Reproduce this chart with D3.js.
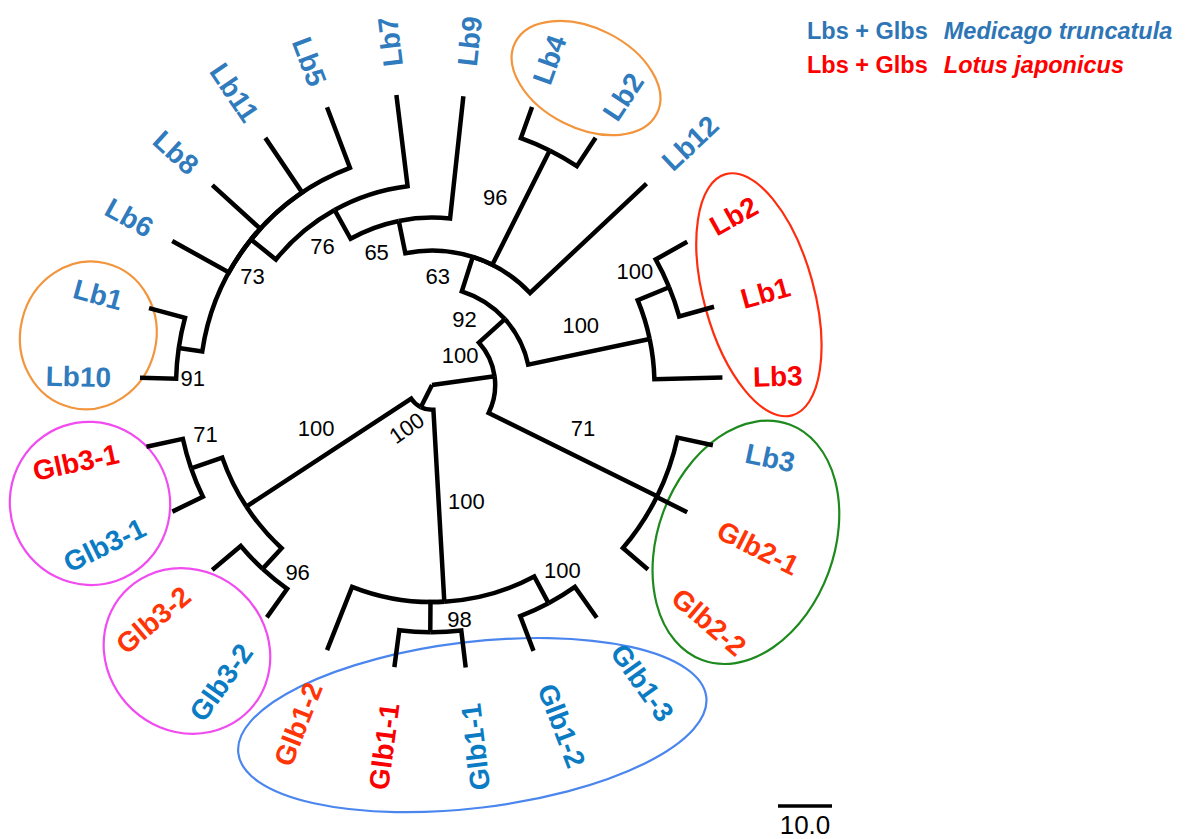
<!DOCTYPE html>
<html>
<head>
<meta charset="utf-8">
<script src="https://cdn.jsdelivr.net/npm/d3@7"></script>
<style>
  html, body { margin: 0; padding: 0; background: #fff; }
  svg { display: block; font-family: "Liberation Sans", Arial, Helvetica, sans-serif; }
</style>
</head>
<body>
<svg id="chart" width="1190" height="839"></svg>
<script>
// ---- Tree topology: node id, parent id, branch length (scale-bar units), bootstrap support
const nodeId = ["root", "A", "N92", "N63", "N65", "N76", "N73", "N91", "Lb10", "Lb1",
  "Lb6", "Lb8", "Lb11", "Lb5", "Lb7", "Lb9", "N96", "Lb4", "Lb2", "Lb12",
  "NL100", "NL100b", "LjLb2", "LjLb1", "LjLb3", "NG2", "MtLb3", "LjGlb2-1", "LjGlb2-2",
  "B", "G1", "N100c", "MtGlb1-3", "MtGlb1-2", "N98", "MtGlb1-1", "LjGlb1-1", "LjGlb1-2",
  "G3", "N96b", "MtGlb3-2", "LjGlb3-2", "N71", "MtGlb3-1", "LjGlb3-1"];
const nodeParent = [null, "root", "A", "N92", "N63", "N65", "N76", "N73", "N91", "N91",
  "N73", "N73", "N73", "N73", "N76", "N65", "N63", "N96", "N96", "N63",
  "N92", "NL100", "NL100b", "NL100b", "NL100", "A", "NG2", "NG2", "NG2",
  "root", "B", "G1", "N100c", "N100c", "G1", "N98", "N98", "G1",
  "B", "G3", "N96b", "N96b", "G3", "N71", "N71"];
const branchLength = [0, 11.7, 6.5, 6.7, 6.1, 6.1, 5.9, 4.4, 6.7, 6.9,
  12.0, 12.0, 12.2, 12.0, 17.0, 22.8, 23.7, 6.1, 6.3, 29.6,
  23.0, 6.3, 6.7, 6.7, 12.6, 34.8, 6.7, 6.3, 6.1,
  4.6, 35.6, 5.6, 7.0, 6.9, 5.6, 6.9, 6.9, 12.6,
  36.5, 5.2, 6.5, 6.9, 6.1, 6.3, 6.9];
const bootstrap = [null, 100, 92, 63, 65, 76, 73, 91, null, null,
  null, null, null, null, null, null, 96, null, null, null,
  100, 100, null, null, null, 71, null, null, null,
  100, 100, 100, null, null, 98, null, null, null,
  100, 96, null, null, 71, null, null];

// ---- Leaves: id, printed name, angular position (degrees, clockwise from east), species group
const leafId = ["Lb10", "Lb1", "Lb6", "Lb8", "Lb11", "Lb5", "Lb7", "Lb9", "Lb4", "Lb2", "Lb12",
  "LjLb2", "LjLb1", "LjLb3", "MtLb3", "LjGlb2-1", "LjGlb2-2",
  "MtGlb1-3", "MtGlb1-2", "MtGlb1-1", "LjGlb1-1", "LjGlb1-2",
  "MtGlb3-2", "LjGlb3-2", "MtGlb3-1", "LjGlb3-1"];
const leafName = ["Lb10", "Lb1", "Lb6", "Lb8", "Lb11", "Lb5", "Lb7", "Lb9", "Lb4", "Lb2", "Lb12",
  "Lb2", "Lb1", "Lb3", "Lb3", "Glb2-1", "Glb2-2",
  "Glb1-3", "Glb1-2", "Glb1-1", "Glb1-1", "Glb1-2",
  "Glb3-2", "Glb3-2", "Glb3-1", "Glb3-1"];
const leafAngle = [181.4, 195.2, 209.0, 222.3, 236.0, 249.3, 263.0, 276.2, 289.8, 303.5, 316.8,
  330.7, 344.5, 358.5, 372.1, 386.5, 400.5,
  414.7, 429.1, 443.2, 457.6, 471.6,
  485.4, 499.9, 514.0, 527.8];
const leafGroup = ["MtLb", "MtLb", "MtLb", "MtLb", "MtLb", "MtLb", "MtLb", "MtLb", "MtLb", "MtLb", "MtLb",
  "LjLb", "LjLb", "LjLb", "MtLb", "LjGlb", "LjGlb",
  "MtGlb", "MtGlb", "MtGlb", "LjLb", "LjGlb",
  "MtGlb", "LjGlb", "MtGlb", "LjLb"];

// ---- Legend and scale bar texts
const legendPrefix = ["Lbs + Glbs", "Lbs + Glbs"];
const legendSpecies = ["Medicago truncatula", "Lotus japonicus"];
const scaleBarValue = 10.0;

// ---- Clade highlights (members listed by leaf id)
const cladeMembers = [
  ["Lb4", "Lb2"],
  ["Lb1", "Lb10"],
  ["LjLb2", "LjLb1", "LjLb3"],
  ["MtLb3", "LjGlb2-1", "LjGlb2-2"],
  ["MtGlb3-1", "LjGlb3-1"],
  ["MtGlb3-2", "LjGlb3-2"],
  ["LjGlb1-2", "LjGlb1-1", "MtGlb1-1", "MtGlb1-2", "MtGlb1-3"]
];

// ---------------- drawing ----------------
const CX = 432, CY = 385;
const svg = d3.select("#chart");

const colour = d3.scaleOrdinal()
  .domain(["MtLb", "MtGlb", "LjLb", "LjGlb"])
  .range(["#2f7bbd", "#0b7cc3", "#fa0000", "#ff3508"]);

// highlight styling: stroke colour, padding along / across the major axis
const cladeStyle = [
  { stroke: "#f2953d", padLong: 38, padShort: 50 },
  { stroke: "#f2953d", padLong: 32, padShort: 68 },
  { stroke: "#ff2d0f", padLong: 42, padShort: 55 },
  { stroke: "#1e8a1e", padLong: 38, padShort: 88 },
  { stroke: "#f04cf0", padLong: 38, padShort: 80 },
  { stroke: "#f04cf0", padLong: 40, padShort: 80 },
  { stroke: "#4a86ee", padLong: 62, padShort: 83 }
];
const supportSide = { N71: 1, G3: 1, B: 0 };   // default -1 (counter-clockwise side)
const supportTilt = { B: -35 };

const R = d3.scaleLinear().domain([0, 10]).range([0, 54]);     // branch length -> px
const rad = d3.scaleLinear().domain([0, 180]).range([0, Math.PI]);

const rows = nodeId.map((id, i) => ({ id, parent: nodeParent[i], len: branchLength[i], support: bootstrap[i] }));
const root = d3.stratify().id(d => d.id).parentId(d => d.parent)(rows);

root.eachBefore(n => { n.dist = n.parent ? n.parent.dist + n.data.len : 0; });
root.eachAfter(n => {
  if (!n.children) {
    n.angle = leafAngle[leafId.indexOf(n.id)];
  } else {
    n.children.sort((a, b) => a.angle - b.angle);
    n.angle = (n.children[0].angle + n.children[n.children.length - 1].angle) / 2;
  }
});

const polar = (r, deg) => [r * Math.cos(rad(deg)), r * Math.sin(rad(deg))];

const g = svg.append("g").attr("transform", `translate(${CX},${CY})`);
const ellLayer = g.append("g");
const linkLayer = g.append("g");
const labelLayer = g.append("g");
const supportLayer = g.append("g");

// branches: arc along the parent radius, then radial segment to the child
function linkPath(n) {
  const p = d3.path();
  const r0 = R(n.parent.dist), r1 = R(n.dist);
  const a0 = rad(n.parent.angle), a1 = rad(n.angle);
  if (r0 > 0) {
    p.moveTo(r0 * Math.cos(a0), r0 * Math.sin(a0));
    p.arc(0, 0, r0, a0, a1, a1 < a0);
  } else {
    p.moveTo(0, 0);
  }
  p.lineTo(r1 * Math.cos(a1), r1 * Math.sin(a1));
  return p.toString();
}

linkLayer.selectAll("path")
  .data(root.descendants().filter(n => n.parent))
  .join("path")
  .attr("d", linkPath)
  .attr("fill", "none")
  .attr("stroke", "#000")
  .attr("stroke-width", 4.5)
  .attr("stroke-linejoin", "miter")
  .attr("stroke-linecap", "butt");

// leaf labels, written outward along each leaf's radius
const labelR = 321;
const labelCentre = {};
root.leaves().forEach(n => {
  const i = leafId.indexOf(n.id);
  const a = ((n.angle % 360) + 360) % 360;
  const flip = a > 80 && a < 260;
  const t = labelLayer.append("text")
    .attr("transform", `rotate(${n.angle}) translate(${labelR},0)` + (flip ? " rotate(180)" : ""))
    .attr("text-anchor", flip ? "end" : "start")
    .attr("dy", "0.36em")
    .attr("font-size", 28)
    .attr("font-weight", "bold")
    .attr("fill", colour(leafGroup[i]))
    .text(leafName[i]);
  const len = t.node().getComputedTextLength();
  labelCentre[n.id] = polar(labelR + len / 2, n.angle);
});

// bootstrap values beside their branches
root.descendants().filter(n => n.data.support != null).forEach(n => {
  const r0 = R(n.parent.dist), r1 = R(n.dist);
  const side = supportSide[n.id] !== undefined ? supportSide[n.id] : -1;
  let rl, a;
  if (side === 0) {
    rl = r1 + 25; a = n.angle + 4;              // inside the node's own wedge
  } else {
    if (r1 - r0 > 80) {
      rl = (r0 + r1) / 2;                       // long branch: beside its middle
    } else {
      rl = Math.max(r0 + 0.3 * (r1 - r0), 0.65 * r1);
    }
    const off = Math.min(28 / rl, 0.9) * 180 / Math.PI;
    a = n.angle + side * off;
    // keep clear of the parent's arc when the label falls over it
    const sib = n.parent.children;
    const lo = sib[0].angle, hi = sib[sib.length - 1].angle;
    if (r0 > 0 && a > lo && a < hi) rl = Math.max(rl, r0 + 19);
  }
  const [x, y] = polar(rl, a);
  supportLayer.append("text")
    .attr("transform", `translate(${x},${y})` + (supportTilt[n.id] ? ` rotate(${supportTilt[n.id]})` : ""))
    .attr("text-anchor", "middle")
    .attr("dy", "0.36em")
    .attr("font-size", 22)
    .attr("fill", "#000")
    .text(n.data.support);
});

// clade highlight ellipses around the member labels
cladeMembers.forEach((members, k) => {
  const pts = members.map(id => labelCentre[id]);
  const cx = d3.mean(pts, p => p[0]), cy = d3.mean(pts, p => p[1]);
  const sorted = members.slice().sort((a, b) => leafAngle[leafId.indexOf(a)] - leafAngle[leafId.indexOf(b)]);
  const p0 = labelCentre[sorted[0]], p1 = labelCentre[sorted[sorted.length - 1]];
  const dx = p1[0] - p0[0], dy = p1[1] - p0[1];
  const ang = Math.atan2(dy, dx) * 180 / Math.PI;
  const st = cladeStyle[k];
  ellLayer.append("ellipse")
    .attr("transform", `translate(${cx},${cy}) rotate(${ang})`)
    .attr("rx", Math.hypot(dx, dy) / 2 + st.padLong)
    .attr("ry", st.padShort)
    .attr("fill", "none")
    .attr("stroke", st.stroke)
    .attr("stroke-width", 2.2);
});

// legend
const legend = svg.append("g").attr("transform", "translate(807,0)");
legendPrefix.forEach((p, i) => {
  const t = legend.append("text")
    .attr("y", 39 + i * 34)
    .attr("font-size", 23.5)
    .attr("font-weight", "bold")
    .attr("fill", i === 0 ? "#2e75b6" : "#ff0000");
  t.append("tspan").text(p);
  t.append("tspan").attr("dx", 16).attr("font-style", "italic").text(legendSpecies[i]);
});

// scale bar
const sb = svg.append("g").attr("transform", "translate(778,806)");
sb.append("line")
  .attr("x1", R(0)).attr("x2", R(scaleBarValue))
  .attr("stroke", "#000").attr("stroke-width", 3.5);
sb.append("text")
  .attr("x", R(scaleBarValue) / 2).attr("y", 28)
  .attr("text-anchor", "middle")
  .attr("font-size", 26)
  .attr("fill", "#000")
  .text(scaleBarValue.toFixed(1));
</script>
</body>
</html>
